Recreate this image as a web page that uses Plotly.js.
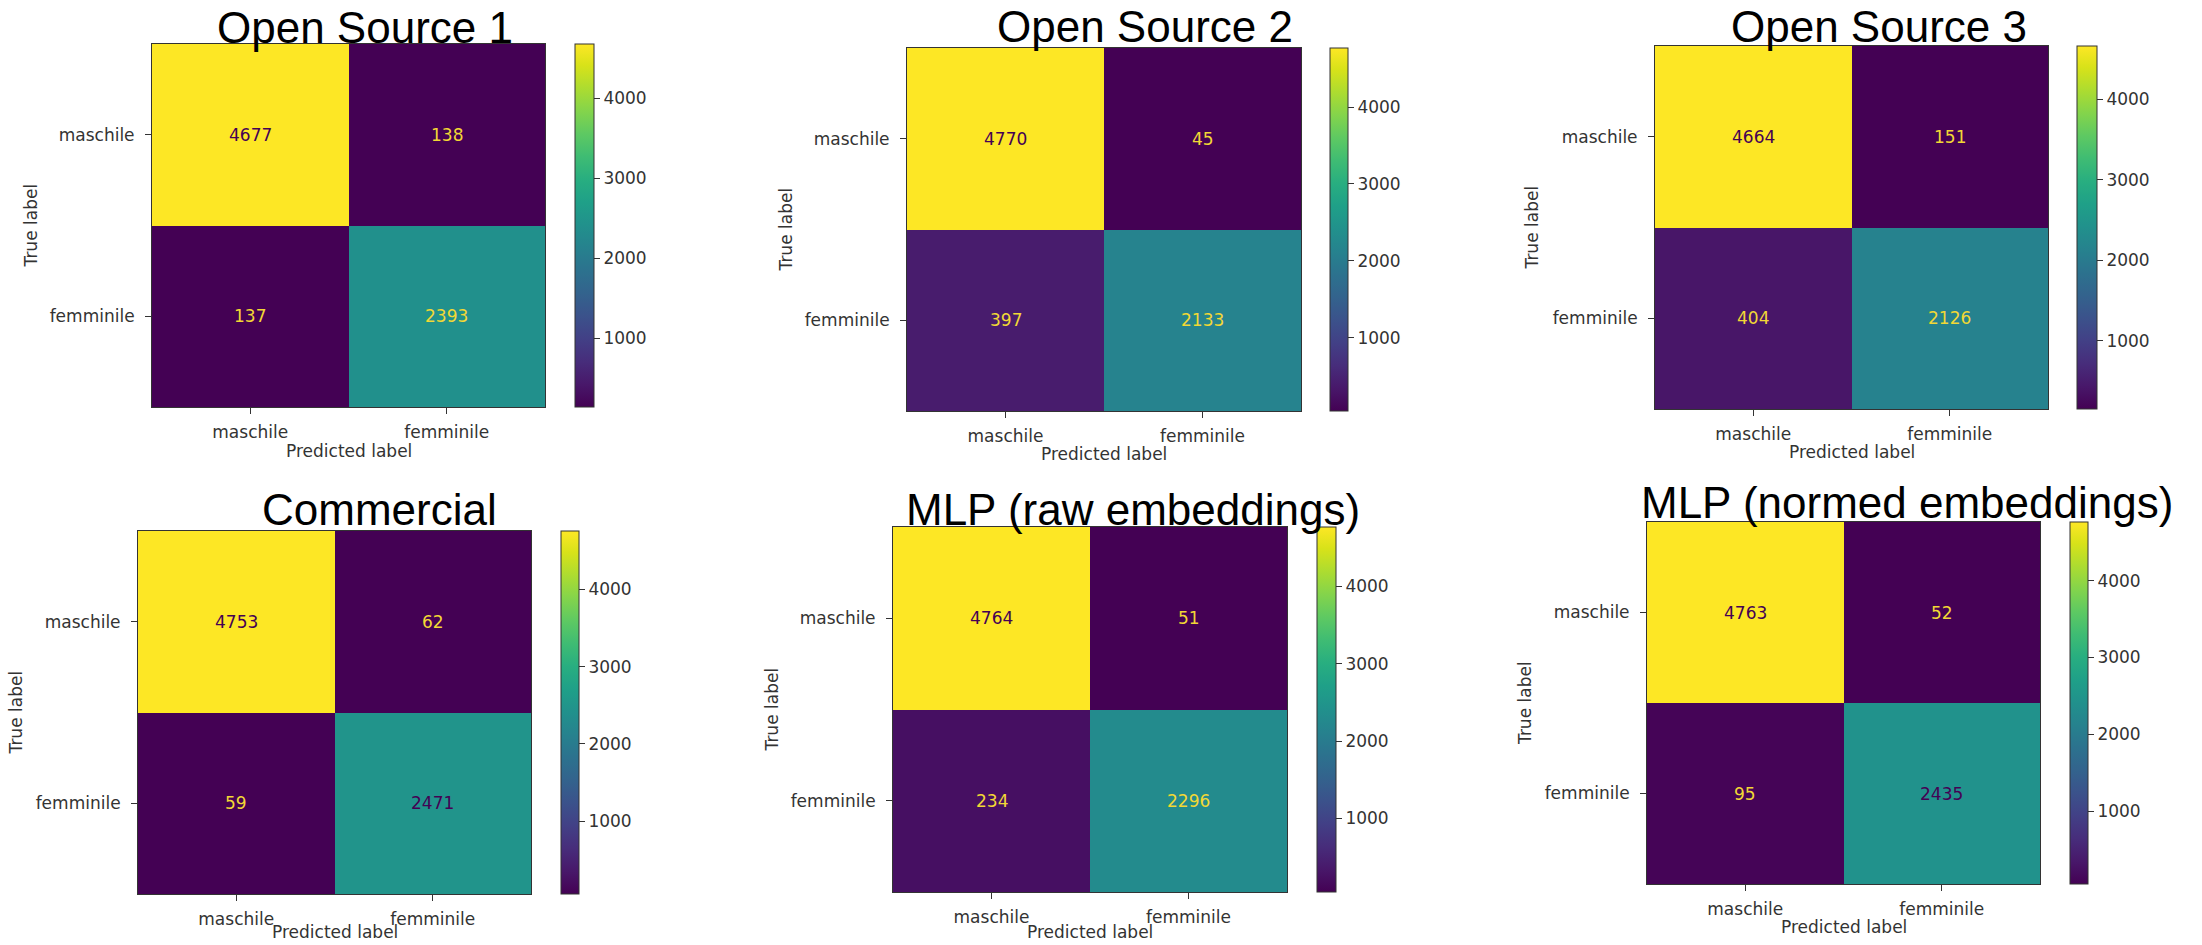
<!DOCTYPE html>
<html>
<head>
<meta charset="utf-8">
<script src="https://cdn.plot.ly/plotly-3.0.1.min.js"></script>
<style>
  html, body { margin: 0; padding: 0; background: #fff; }
  #chart { width: 2202px; height: 945px; }
</style>
</head>
<body>
<div id="chart"></div>
<script>
// ---------------- data ----------------
const classes = ['maschile', 'femminile'];
const panelTitles = ['Open Source 1', 'Open Source 2', 'Open Source 3',
                     'Commercial', 'MLP (raw embeddings)', 'MLP (normed embeddings)'];
const openSource1 = [[4677, 138], [137, 2393]];
const openSource2 = [[4770, 45], [397, 2133]];
const openSource3 = [[4664, 151], [404, 2126]];
const commercial  = [[4753, 62], [59, 2471]];
const mlpRaw      = [[4764, 51], [234, 2296]];
const mlpNormed   = [[4763, 52], [95, 2435]];
const colorbarTicks = [1000, 2000, 3000, 4000];
const xAxisLabel = 'Predicted label';
const yAxisLabel = 'True label';

const matrices = [openSource1, openSource2, openSource3, commercial, mlpRaw, mlpNormed];

// ---------------- layout geometry (pixels) ----------------
const W = 2202, H = 945;
const boxes = [
  {l: 152,  r: 545,  t: 44,  b: 407, cbl: 575,  cbw: 19, tx: 365,  tb: 43,  yl: 30,   xlY: 451},
  {l: 907,  r: 1301, t: 48,  b: 411, cbl: 1330, cbw: 18, tx: 1145, tb: 42,  yl: 785,  xlY: 454},
  {l: 1655, r: 2048, t: 46,  b: 409, cbl: 2077, cbw: 20, tx: 1879, tb: 42,  yl: 1532, xlY: 452},
  {l: 138,  r: 531,  t: 531, b: 894, cbl: 561,  cbw: 18, tx: 379,  tb: 525, yl: 15,   xlY: 932},
  {l: 893,  r: 1287, t: 527, b: 892, cbl: 1317, cbw: 19, tx: 1133, tb: 525, yl: 771,  xlY: 932},
  {l: 1647, r: 2040, t: 522, b: 884, cbl: 2070, cbw: 18, tx: 1907, tb: 518, yl: 1525, xlY: 927}
];

const tickFont = {family: 'DejaVu Sans', size: 17, color: '#333'};
const titleSize = 44;
const darkText = '#440154';
const lightText = '#f2d835';

const px = v => v / W;
const py = v => 1 - v / H;

const data = [];
const layout = {
  width: W, height: H,
  margin: {l: 0, r: 0, t: 0, b: 0, pad: 0},
  paper_bgcolor: '#ffffff',
  plot_bgcolor: '#ffffff',
  showlegend: false,
  annotations: []
};

matrices.forEach((m, i) => {
  const g = boxes[i];
  const sfx = i === 0 ? '' : String(i + 1);
  const flat = m.flat();
  const zmin = Math.min(...flat), zmax = Math.max(...flat);
  const thresh = (zmin + zmax) / 2;

  data.push({
    type: 'heatmap',
    z: m, x: classes, y: classes,
    xaxis: 'x' + sfx, yaxis: 'y' + sfx,
    coloraxis: 'coloraxis' + sfx,
    hoverinfo: 'skip'
  });

  layout['coloraxis' + sfx] = {
    colorscale: 'Viridis', cmin: zmin, cmax: zmax,
    colorbar: {
      x: px(g.cbl), xanchor: 'left', xref: 'paper',
      y: py(g.t), yanchor: 'top', yref: 'paper',
      len: (g.b - g.t) / H, lenmode: 'fraction',
      thickness: g.cbw, thicknessmode: 'pixels',
      xpad: 0, ypad: 0,
      outlinewidth: 1, outlinecolor: '#333',
      tickvals: colorbarTicks,
      ticks: 'outside', ticklen: 6, tickwidth: 1, tickcolor: '#333',
      ticklabelstandoff: 5,
      tickfont: tickFont
    }
  };

  layout['xaxis' + sfx] = {
    domain: [px(g.l), px(g.r)],
    anchor: 'y' + sfx,
    type: 'category',
    range: [-0.5, 1.5],
    fixedrange: true,
    showgrid: false, zeroline: false,
    showline: true, linecolor: '#333', linewidth: 1, mirror: true,
    ticks: 'outside', ticklen: 6, tickwidth: 1, tickcolor: '#333',
    ticklabelstandoff: 4,
    tickfont: tickFont
  };
  layout['yaxis' + sfx] = {
    domain: [py(g.b), py(g.t)],
    anchor: 'x' + sfx,
    type: 'category',
    range: [1.5, -0.5],
    fixedrange: true,
    showgrid: false, zeroline: false,
    showline: true, linecolor: '#333', linewidth: 1, mirror: true,
    ticks: 'outside', ticklen: 6, tickwidth: 1, tickcolor: '#333',
    ticklabelstandoff: 7,
    tickfont: tickFont
  };

  // cell values
  m.forEach((row, ri) => row.forEach((v, ci) => {
    layout.annotations.push({
      xref: 'x' + sfx, yref: 'y' + sfx,
      x: classes[ci], y: classes[ri],
      text: String(v), showarrow: false,
      font: {family: 'DejaVu Sans', size: 17, color: v > thresh ? darkText : lightText}
    });
  }));

  // panel title
  layout.annotations.push({
    xref: 'paper', yref: 'paper',
    x: px(g.tx), y: py(g.tb - 0.3465 * titleSize),
    xanchor: 'center', yanchor: 'middle',
    text: panelTitles[i], showarrow: false,
    font: {family: 'Liberation Sans, Arial, sans-serif', size: titleSize, color: '#000'}
  });

  // axis labels
  layout.annotations.push({
    xref: 'paper', yref: 'paper',
    x: px((g.l + g.r) / 2), y: py(g.xlY),
    xanchor: 'center', yanchor: 'middle',
    text: xAxisLabel, showarrow: false,
    font: tickFont
  });
  layout.annotations.push({
    xref: 'paper', yref: 'paper',
    x: px(g.yl), y: py((g.t + g.b) / 2),
    xanchor: 'center', yanchor: 'middle',
    textangle: -90,
    text: yAxisLabel, showarrow: false,
    font: tickFont
  });
});

Plotly.newPlot('chart', data, layout, {displayModeBar: false, staticPlot: true});
</script>
</body>
</html>
